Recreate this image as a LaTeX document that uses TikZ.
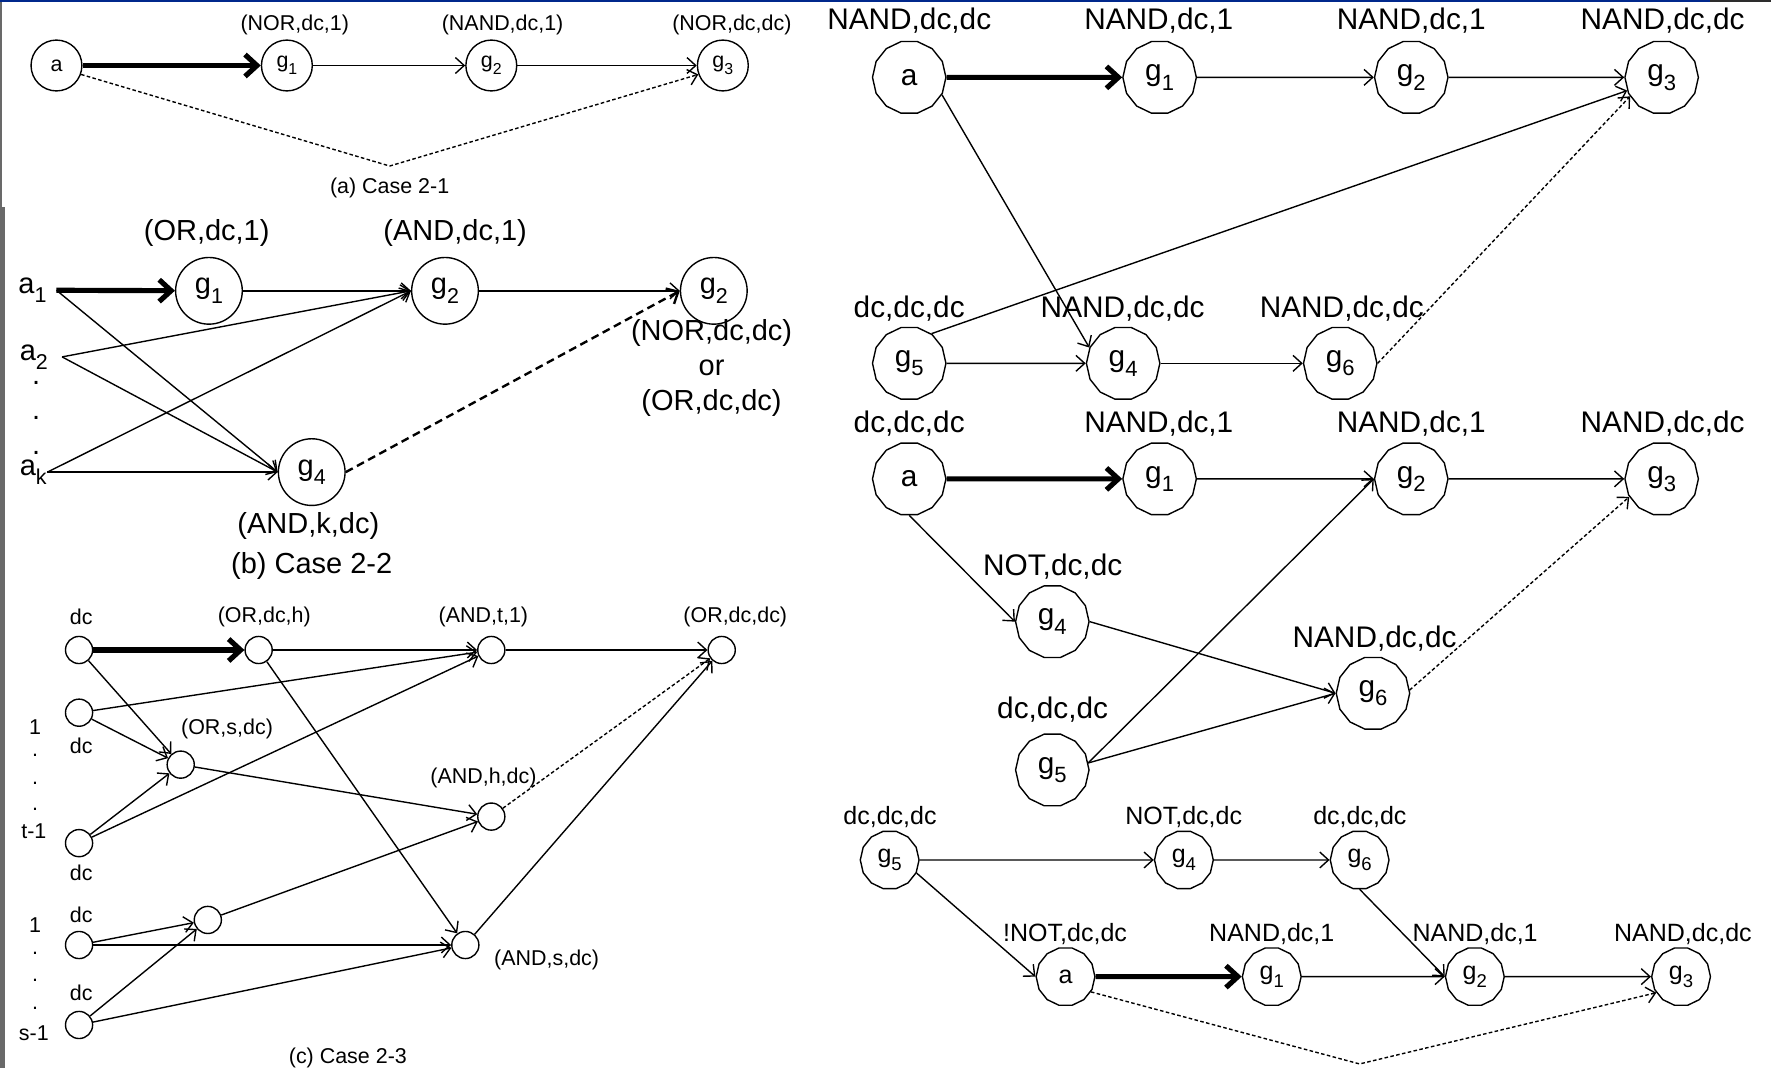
\documentclass[tikz,border=0pt]{standalone}
\usepackage{fontspec}
\setmainfont{Liberation Sans}
\usetikzlibrary{arrows.meta, shapes.geometric}
\definecolor{barblue}{RGB}{0, 40, 140}
\definecolor{bargray}{RGB}{105, 105, 105}
\definecolor{bardark}{RGB}{45, 45, 45}
\newcommand{\idx}[1]{\raisebox{-0.32em}{\scalebox{0.74}{#1}}}

\begin{document}
\begin{tikzpicture}[x=0.01cm, y=-0.01cm,
    wire/.style={line width=0.35pt, -{Straight Barb[length=2.2pt, width=4pt]}},
    hot/.style={line width=1.3pt, -{Straight Barb[length=3pt, width=5.5pt]}},
    dotwire/.style={line width=0.35pt, dash pattern=on 0.9pt off 0.6pt, -{Straight Barb[length=2.2pt, width=4pt]}},
    dashwire/.style={line width=0.6pt, dash pattern=on 2pt off 1.2pt, -{Straight Barb[length=2.4pt, width=4.4pt]}},
    labA/.style={inner sep=0pt, font=\fontsize{5.4pt}{6.5pt}\selectfont},
    labB/.style={inner sep=0pt, font=\fontsize{7.3pt}{8.8pt}\selectfont},
    labR/.style={inner sep=0pt, font=\fontsize{7.5pt}{9pt}\selectfont},
    labS/.style={inner sep=0pt, font=\fontsize{6.3pt}{7.5pt}\selectfont},
    gateA/.style={draw, circle, line width=0.35pt, inner sep=0pt, minimum size=0.45cm, labA},
    gateB/.style={draw, circle, line width=0.35pt, inner sep=0pt, minimum size=0.59cm, labB},
    gateC/.style={draw, circle, line width=0.35pt, inner sep=0pt, minimum size=0.24cm},
    gateR/.style={draw, regular polygon, regular polygon sides=14, line width=0.35pt, inner sep=0pt, minimum size=0.65cm, labR},
    gateS/.style={draw, regular polygon, regular polygon sides=14, line width=0.35pt, inner sep=0pt, minimum size=0.52cm, labS}]
    \useasboundingbox (0,0) rectangle (1568,946);

    % frame strips of the page
    \fill[barblue] (0,0) rectangle (1514,1.8);
    \fill[bardark] (1514,0) rectangle (1568,1.8);
    \fill[bargray] (0,1.8) rectangle (2.2,183);
    \fill[bargray] (0,183) rectangle (4.4,946);

    % (a) Case 2-1
    \node[gateA] (aA) at (50,58) {a};
    \node[gateA] (aG1) at (254,58) {g\idx{1}};
    \node[gateA] (aG2) at (435,58) {g\idx{2}};
    \node[gateA] (aG3) at (640,58) {g\idx{3}};
    \node[labA] (aL1) at (261,22) {(NOR,dc,1)};
    \node[labA] (aL2) at (445,22) {(NAND,dc,1)};
    \node[labA] (aL3) at (648,22) {(NOR,dc,dc)};
    \coordinate (aV) at (345,147);
    \draw[hot] (aA) -- (aG1);
    \draw[wire] (aG1) -- (aG2);
    \draw[wire] (aG2) -- (aG3);
    \draw[dotwire] (aA.-20) -- (aV) -- (aG3.200);
    \node[labA] (aCap) at (345,166) {(a) Case 2-1};

    % (b) Case 2-2
    \node[labB, anchor=east, inner xsep=2.3pt] (bA1) at (50,257) {a\idx{1}};
    \node[labB, anchor=east, inner xsep=3.4pt] (bA2) at (55,316) {a\idx{2}};
    \node[labB, anchor=east] (bAk) at (42,418) {a\idx{k}};
    \foreach \y in {339,370,401}
        \node[labB] (bDot\y) at (32,\y) {.};
    \node[gateB] (bG1) at (185,257.5) {g\idx{1}};
    \node[gateB] (bG2) at (394,257.5) {g\idx{2}};
    \node[gateB] (bG2out) at (632,257.5) {g\idx{2}};
    \node[gateB] (bG4) at (276,418) {g\idx{4}};
    \node[labB] (bL1) at (183,206) {(OR,dc,1)};
    \node[labB] (bL2) at (403,206) {(AND,dc,1)};
    \node[labB, align=center] (bL3) at (630,326) {(NOR,dc,dc)\\or\\(OR,dc,dc)};
    \node[labB] (bL4) at (273,466) {(AND,k,dc)};
    \draw[hot] (bA1.east) -- (bG1);
    \draw[wire] (bG1) -- (bG2.west);
    \draw[wire] (bG2) -- (bG2out.west);
    \draw[wire] (bA1.east) -- (bG4.west);
    \draw[wire] (bA2.east) -- (bG2.west);
    \draw[wire] (bA2.east) -- (bG4.west);
    \draw[wire] (bAk.east) -- (bG2.west);
    \draw[wire] (bAk.east) -- (bG4.west);
    \draw[dashwire] (bG4.east) -- (bG2out.west);
    \node[labB] (bCap) at (276,501) {(b) Case 2-2};

    % (c) Case 2-3
    \node[gateC] (cN1) at (70,575.5) {};
    \node[gateC] (cN2) at (229,575.5) {};
    \node[gateC] (cAt) at (435,575.5) {};
    \node[gateC] (cOo) at (639,575.5) {};
    \node[gateC] (cD1) at (70,631) {};
    \node[gateC] (cOs) at (160,677) {};
    \node[gateC] (cAh) at (435,723) {};
    \node[gateC] (cT) at (70,746.5) {};
    \node[gateC] (cM) at (184,814.5) {};
    \node[gateC] (cB1) at (70,836.7) {};
    \node[gateC] (cAs) at (412,836.7) {};
    \node[gateC] (cS) at (70,907.5) {};
    \node[labA] (cL1) at (72,546) {dc};
    \node[labA] (cL2) at (234,546) {(OR,dc,h)};
    \node[labA] (cL3) at (428,546) {(AND,t,1)};
    \node[labA] (cL4) at (651,546) {(OR,dc,dc)};
    \node[labA] (cL5) at (201,645) {(OR,s,dc)};
    \node[labA] (cL6) at (428,689) {(AND,h,dc)};
    \node[labA] (cL7) at (484,850) {(AND,s,dc)};
    \node[labA] (cL8) at (72,660) {dc};
    \node[labA] (cL9) at (72,773) {dc};
    \node[labA] (cL10) at (72,810) {dc};
    \node[labA] (cL11) at (72,879) {dc};
    \node[labA] (cN1a) at (31,643.5) {1};
    \node[labA] (cT1a) at (30,736) {t-1};
    \node[labA] (cN1b) at (31,819) {1};
    \node[labA] (cS1a) at (30,915) {s-1};
    \foreach \y in {668.5,693.5,717,844,867.6,892.7}
        \node[labA] (cDot\y) at (31,\y) {.};
    \draw[hot] (cN1) -- (cN2);
    \draw[wire] (cN2) -- (cAt);
    \draw[wire] (cAt) -- (cOo);
    \draw[wire] (cN1) -- (cOs);
    \draw[wire] (cN2) -- (cAs);
    \draw[wire] (cD1) -- (cAt);
    \draw[wire] (cD1) -- (cOs);
    \draw[wire] (cT) -- (cOs);
    \draw[wire] (cT) -- (cAt);
    \draw[wire] (cOs) -- (cAh);
    \draw[dotwire] (cAh) -- (cOo);
    \draw[wire] (cB1) -- (cM);
    \draw[wire] (cB1) -- (cAs);
    \draw[wire] (cS) -- (cM);
    \draw[wire] (cS) -- (cAs);
    \draw[wire] (cM) -- (cAh);
    \draw[wire] (cAs) -- (cOo);
    \node[labA] (cCap) at (308,937) {(c) Case 2-3};

    % right, first network
    \node[gateR] (rA) at (805,68.5) {a};
    \node[gateR] (rG1) at (1026.7,68.5) {g\idx{1}};
    \node[gateR] (rG2) at (1249.5,68.5) {g\idx{2}};
    \node[gateR] (rG3) at (1471.2,68.5) {g\idx{3}};
    \node[gateR] (rG5) at (805,321.7) {g\idx{5}};
    \node[gateR] (rG4) at (994.4,321.7) {g\idx{4}};
    \node[gateR] (rG6) at (1186.6,321.7) {g\idx{6}};
    \node[labR] (rL1) at (805,18) {NAND,dc,dc};
    \node[labR] (rL2) at (1026,18) {NAND,dc,1};
    \node[labR] (rL3) at (1249.5,18) {NAND,dc,1};
    \node[labR] (rL4) at (1472,18) {NAND,dc,dc};
    \node[labR] (rL5) at (805,273) {dc,dc,dc};
    \node[labR] (rL6) at (994,273) {NAND,dc,dc};
    \node[labR] (rL7) at (1188,273) {NAND,dc,dc};
    \draw[hot] (rA) -- (rG1);
    \draw[wire] (rG1) -- (rG2);
    \draw[wire] (rG2) -- (rG3);
    \draw[wire] (rA.-28) -- (rG4.155);
    \draw[wire] (rG5) -- (rG4);
    \draw[wire] (rG4) -- (rG6);
    \draw[wire] (rG5.53) -- (rG3.201);
    \draw[dotwire] (rG6.east) -- (rG3.211);

    % right, second network
    \node[gateR] (sA) at (805,424) {a};
    \node[gateR] (sG1) at (1026.7,424) {g\idx{1}};
    \node[gateR] (sG2) at (1249.5,424) {g\idx{2}};
    \node[gateR] (sG3) at (1471.2,424) {g\idx{3}};
    \node[gateR] (sG4) at (931.7,550.4) {g\idx{4}};
    \node[gateR] (sG6) at (1215.6,613.8) {g\idx{6}};
    \node[gateR] (sG5) at (931.7,681.7) {g\idx{5}};
    \node[labR] (sL1) at (805,375) {dc,dc,dc};
    \node[labR] (sL2) at (1026,375) {NAND,dc,1};
    \node[labR] (sL3) at (1249.5,375) {NAND,dc,1};
    \node[labR] (sL4) at (1472,375) {NAND,dc,dc};
    \node[labR] (sL5) at (932,502) {NOT,dc,dc};
    \node[labR] (sL6) at (1217,565) {NAND,dc,dc};
    \node[labR] (sL7) at (932,628.6) {dc,dc,dc};
    \draw[hot] (sA) -- (sG1);
    \draw[wire] (sG1) -- (sG2);
    \draw[wire] (sG2) -- (sG3);
    \draw[wire] (sA.south) -- (sG4.west);
    \draw[wire] (sG4.east) -- (sG6.west);
    \draw[wire] (sG5.11) -- (sG2.west);
    \draw[wire] (sG5.11) -- (sG6.west);
    \draw[dotwire] (sG6.5) -- (sG3.209);

    % right, third network
    \node[gateS] (tG5) at (787.7,761.4) {g\idx{5}};
    \node[gateS] (tG4) at (1048.2,761.4) {g\idx{4}};
    \node[gateS] (tG6) at (1203.8,761.4) {g\idx{6}};
    \node[gateS] (tA) at (943.4,864.7) {a};
    \node[gateS] (tG1) at (1126,864.7) {g\idx{1}};
    \node[gateS] (tG2) at (1305.8,864.7) {g\idx{2}};
    \node[gateS] (tG3) at (1488.4,864.7) {g\idx{3}};
    \node[labS] (tL1) at (788,723) {dc,dc,dc};
    \node[labS] (tL2) at (1048,723) {NOT,dc,dc};
    \node[labS] (tL3) at (1204,723) {dc,dc,dc};
    \node[labS] (tL4) at (943,827) {!NOT,dc,dc};
    \node[labS] (tL5) at (1126,827) {NAND,dc,1};
    \node[labS] (tL6) at (1306,827) {NAND,dc,1};
    \node[labS] (tL7) at (1490,827) {NAND,dc,dc};
    \coordinate (tV) at (1203.8,942);
    \draw[wire] (tG5) -- (tG4);
    \draw[wire] (tG4) -- (tG6);
    \draw[wire] (tG5.-26) -- (tA.west);
    \draw[wire] (tG6.south) -- (tG2.west);
    \draw[hot] (tA) -- (tG1);
    \draw[wire] (tG1) -- (tG2);
    \draw[wire] (tG2) -- (tG3);
    \draw[dotwire] (tA.-31) -- (tV) -- (tG3.213);
\end{tikzpicture}
\end{document}
